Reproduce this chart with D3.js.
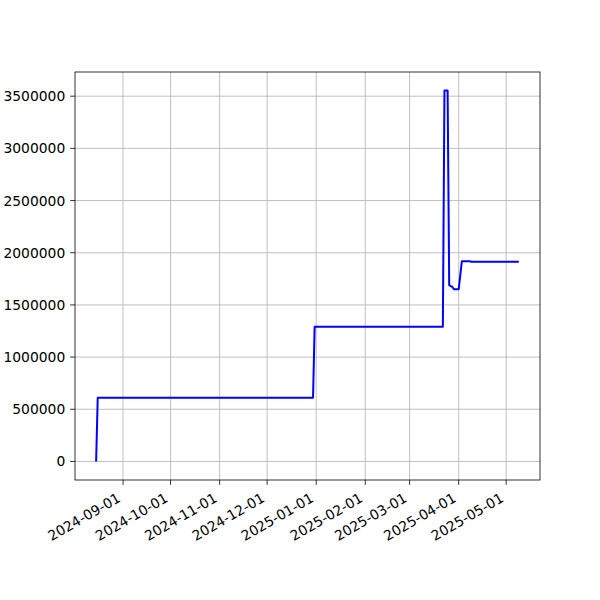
<!DOCTYPE html>
<html><head><meta charset="utf-8">
<script src="https://cdn.jsdelivr.net/npm/d3@7"></script>
<style>body{margin:0;background:#fff}svg{display:block}</style>
</head><body>
<script>
const dates = ["2024-08-15","2024-08-16","2024-12-30","2024-12-31","2025-03-22","2025-03-23","2025-03-25","2025-03-26","2025-03-27","2025-03-28","2025-03-29","2025-04-01","2025-04-03","2025-04-08","2025-04-09","2025-05-09"];
const values = [0,610000,610000,1290000,1290000,3554000,3554000,1689000,1680000,1672000,1650000,1650000,1919000,1918000,1914000,1914000];
const xTickLabels = ["2024-09-01","2024-10-01","2024-11-01","2024-12-01","2025-01-01","2025-02-01","2025-03-01","2025-04-01","2025-05-01"];
const yTickValues = [0,500000,1000000,1500000,2000000,2500000,3000000,3500000];

const W=600,H=600, L=75,R=540,T=72,B=480;
const parse=d3.utcParse("%Y-%m-%d");
const data=dates.map((d,i)=>({x:parse(d),y:values[i]}));
const xe=d3.extent(data,d=>d.x), xs=xe[1]-xe[0];
const x=d3.scaleUtc().domain([new Date(+xe[0]-0.05*xs),new Date(+xe[1]+0.05*xs)]).range([L,R]);
const ye=d3.extent(data,d=>d.y), ys=ye[1]-ye[0];
const y=d3.scaleLinear().domain([ye[0]-0.05*ys,ye[1]+0.05*ys]).range([B,T]);

const svg=d3.select("body").append("svg").attr("width",W).attr("height",H);
const font="DejaVu Sans, sans-serif", fs=13.89, tl=4.86;
const xt=xTickLabels.map(parse);

// grid
svg.append("g").selectAll("line").data(xt).join("line")
 .attr("x1",d=>x(d)).attr("x2",d=>x(d)).attr("y1",T).attr("y2",B)
 .attr("stroke","#b0b0b0").attr("stroke-width",0.8);
svg.append("g").selectAll("line").data(yTickValues).join("line")
 .attr("x1",L).attr("x2",R).attr("y1",d=>y(d)).attr("y2",d=>y(d))
 .attr("stroke","#b0b0b0").attr("stroke-width",0.8);

// line
svg.append("path").datum(data)
 .attr("d",d3.line().x(d=>x(d.x)).y(d=>y(d.y)))
 .attr("fill","none").attr("stroke","#0000ff").attr("stroke-width",2)
 .attr("stroke-linejoin","round");

// spines
svg.append("rect").attr("x",L).attr("y",T).attr("width",R-L).attr("height",B-T)
 .attr("fill","none").attr("stroke","#000").attr("stroke-width",0.8);

// x ticks
const gx=svg.append("g");
gx.selectAll("line").data(xt).join("line")
 .attr("x1",d=>x(d)).attr("x2",d=>x(d)).attr("y1",B).attr("y2",B+tl)
 .attr("stroke","#000").attr("stroke-width",0.8);
gx.selectAll("text").data(xt).join("text")
 .attr("transform",d=>`translate(${x(d)-1.6},${B+tl+4.86+11.2}) rotate(-30)`)
 .attr("text-anchor","end").attr("font-family",font).attr("font-size",fs)
 .attr("fill","#000").text((d,i)=>xTickLabels[i]);

// y ticks
const gy=svg.append("g");
gy.selectAll("line").data(yTickValues).join("line")
 .attr("x1",L-tl).attr("x2",L).attr("y1",d=>y(d)).attr("y2",d=>y(d))
 .attr("stroke","#000").attr("stroke-width",0.8);
gy.selectAll("text").data(yTickValues).join("text")
 .attr("x",L-tl-4.86).attr("y",d=>y(d)).attr("dy","0.36em")
 .attr("text-anchor","end").attr("font-family",font).attr("font-size",fs)
 .attr("fill","#000").text(d=>String(d));
</script>
</body></html>
